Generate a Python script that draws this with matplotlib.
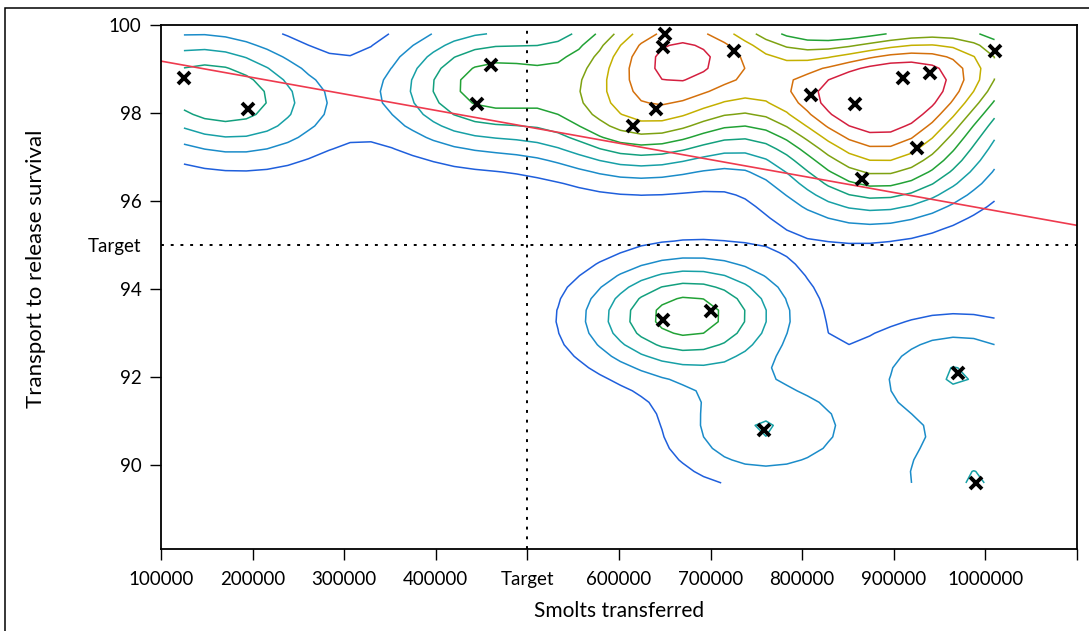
import numpy as np
import matplotlib
matplotlib.use('Agg')
import matplotlib.pyplot as plt
from matplotlib.patches import Rectangle

plt.rcParams['font.family'] = ['Lato', 'DejaVu Sans']

# observed points (smolts transferred, transport-to-release survival %)
smolts = [125000, 195000, 460000, 445000, 615000, 640000, 650000, 648000,
          725000, 810000, 858000, 910000, 940000, 925000, 865000, 1010000,
          648000, 700000, 758000, 970000, 990000]
survival = [98.8, 98.1, 99.1, 98.2, 97.7, 98.1, 99.8, 99.5,
            99.4, 98.4, 98.2, 98.8, 98.9, 97.2, 96.5, 99.4,
            93.3, 93.5, 90.8, 92.1, 89.6]

# fitted trend line end points
trend_x = [100000, 1100000]
trend_y = [99.18, 95.45]

target_smolts = 500000
target_survival = 95

x_ticks = [100000, 200000, 300000, 400000, 500000, 600000, 700000,
           800000, 900000, 1000000, 1100000]
x_labels = ['100000', '200000', '300000', '400000', 'Target', '600000',
            '700000', '800000', '900000', '1000000', '']
y_ticks = [90, 92, 94, 95, 96, 98, 100]
y_labels = ['90', '92', '94', 'Target', '96', '98', '100']

level_colors = ['#1f5fdc', '#1b8cc9', '#17a0a6', '#13a07e', '#22a236',
                '#7ea212', '#c4b000', '#d4700c', '#d41f3f']

# 2d gaussian kernel density over the data range
xs = np.array(smolts, float)
ys = np.array(survival, float)
sx, sy = 72000.0, 0.9
gx = np.linspace(xs.min(), xs.max(), 40)
gy = np.linspace(ys.min(), ys.max(), 40)
GX, GY = np.meshgrid(gx, gy)
Z = np.zeros_like(GX)
for px, py in zip(xs, ys):
    Z += np.exp(-0.5 * (((GX - px) / sx) ** 2 + ((GY - py) / sy) ** 2))
step = Z.max() / 10.8
levels = step * np.arange(1, 10)

fig = plt.figure(figsize=(10.89, 6.31), dpi=100)
ax = fig.add_axes([161 / 1089, 1 - 549 / 631, (1077 - 161) / 1089,
                   (549 - 25) / 631])

ax.contour(GX, GY, Z, levels=levels, colors=level_colors, linewidths=1.1)
ax.plot(trend_x, trend_y, color='#ee3a4e', lw=1.2)
ax.axvline(target_smolts, color='black', lw=1.4, ls=(0, (1.5, 3.5)))
ax.axhline(target_survival, color='black', lw=1.4, ls=(0, (1.5, 3.5)))
ax.plot(smolts, survival, 'x', color='black', ms=8.5, mew=2.8)

ax.set_xlim(100000, 1100000)
ax.set_ylim(88.1, 100)
ax.set_xticks(x_ticks)
ax.set_xticklabels(x_labels)
ax.set_yticks(y_ticks)
ax.set_yticklabels(y_labels)
ax.tick_params(direction='out', length=8, width=1.0, labelsize=13.5,
               color='black')
ax.tick_params(axis='x', pad=8)
ax.tick_params(axis='y', pad=6)
for t in ax.yaxis.get_major_ticks():
    if t.get_loc() == target_survival:
        t.tick1line.set_visible(False)
for s in ax.spines.values():
    s.set_linewidth(1.3)
ax.set_xlabel('Smolts transferred', fontsize=15, labelpad=9)
ax.set_ylabel('Transport to release survival', fontsize=16)
ax.yaxis.set_label_coords(-0.126, 0.535)

fig.add_artist(Rectangle((5 / 1089, -0.1), 2, 1.1 - 8 / 631,
                         transform=fig.transFigure, fill=False, lw=1.1,
                         edgecolor='black'))

fig.savefig('out.png', dpi=100)
